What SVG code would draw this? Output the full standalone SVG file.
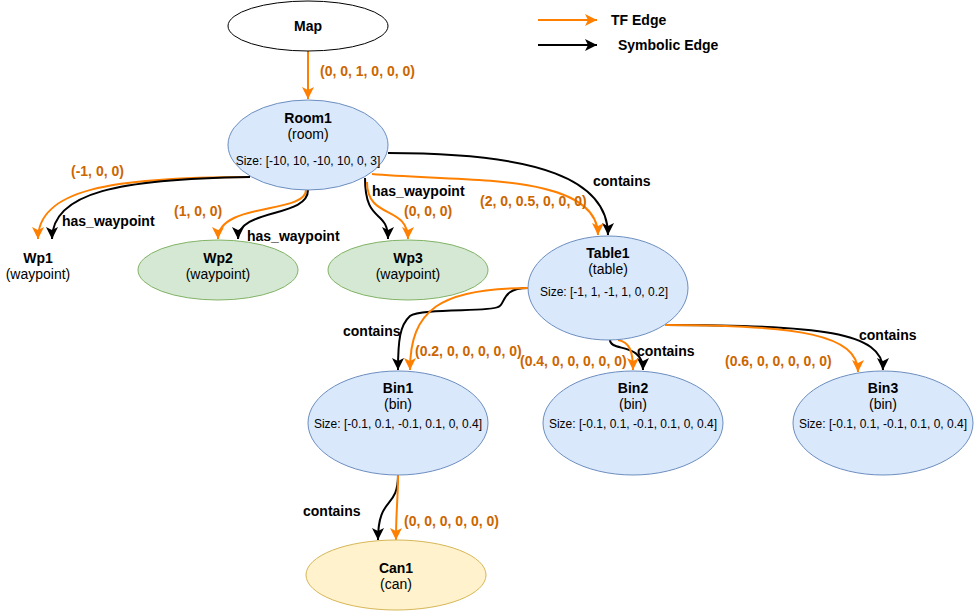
<svg xmlns="http://www.w3.org/2000/svg" width="979" height="611" viewBox="0 0 979 611">
<style>
text{font-family:"Liberation Sans",Arial,sans-serif;font-size:14px;fill:#000}
.b{font-weight:bold}
.c{text-anchor:middle}
.s{font-size:12px}
.tf{fill:none;stroke:#FF8000;stroke-width:2}
.sy{fill:none;stroke:#000;stroke-width:2}
.lt{font-weight:bold;fill:#CC6600}
.blue{fill:#dae8fc;stroke:#6c8ebf}
.green{fill:#d5e8d4;stroke:#82b366}
.yellow{fill:#fff2cc;stroke:#d6b656}
</style>
<defs>
<marker id="ao" markerUnits="userSpaceOnUse" markerWidth="14" markerHeight="12" viewBox="0 0 14 12" refX="12" refY="6" orient="auto">
<path d="M0,0 L12,6 L0,12 L3,6 Z" fill="#FF8000"/>
</marker>
<marker id="ab" markerUnits="userSpaceOnUse" markerWidth="14" markerHeight="12" viewBox="0 0 14 12" refX="12" refY="6" orient="auto">
<path d="M0,0 L12,6 L0,12 L3,6 Z" fill="#000"/>
</marker>
</defs>
<g id="legend">
<path class="tf" d="M538 20 L597 20" marker-end="url(#ao)"/>
<path class="sy" d="M538 45 L597 45" marker-end="url(#ab)"/>
<text class="b" x="611" y="25">TF Edge</text>
<text class="b" x="618" y="50">Symbolic Edge</text>
</g>
<g id="connectors">
<path class="tf" d="M308 51 L308 99" marker-end="url(#ao)"/>
<path class="tf" d="M250 177 C110 177 38 190 38 239" marker-end="url(#ao)"/>
<path class="sy" d="M250 177 C120 179 52 192 52 239" marker-end="url(#ab)"/>
<path class="tf" d="M306 190 C306 214 218 202 218 239" marker-end="url(#ao)"/>
<path class="sy" d="M308 190 C308 218 238 208 238 239" marker-end="url(#ab)"/>
<path class="sy" d="M365 178 C365 225 388 208 388 239" marker-end="url(#ab)"/>
<path class="tf" d="M367 182 C367 220 408 205 408 239" marker-end="url(#ao)"/>
<path class="sy" d="M388 153 C540 153 608 180 608 235" marker-end="url(#ab)"/>
<path class="tf" d="M372 174 C460 182 598 172 598 235" marker-end="url(#ao)"/>
<path class="sy" d="M528 288 C500 288 506 305 498 307 C490 312 420 308 410 316 C400 325 398 340 398 370" marker-end="url(#ab)"/>
<path class="tf" d="M528 288 C440 288 410 310 410 370" marker-end="url(#ao)"/>
<path class="sy" d="M610 340 C610 352 643 342 643 370" marker-end="url(#ab)"/>
<path class="tf" d="M618 340 C630 342 633 352 633 370" marker-end="url(#ao)"/>
<path class="sy" d="M665 325 C820 325 883 332 883 370" marker-end="url(#ab)"/>
<path class="tf" d="M665 325 C800 325 858 335 858 372" marker-end="url(#ao)"/>
<path class="sy" d="M398 475 C398 510 378 495 378 540" marker-end="url(#ab)"/>
<path class="tf" d="M398 475 C398 500 396 510 396 540" marker-end="url(#ao)"/>
<text class="lt" x="320" y="76">(0, 0, 1, 0, 0, 0)</text>
<text class="lt" x="71" y="176">(-1, 0, 0)</text>
<text class="b" x="62" y="226">has_waypoint</text>
<text class="lt" x="174" y="216">(1, 0, 0)</text>
<text class="b" x="247" y="241">has_waypoint</text>
<text class="b" x="372" y="196">has_waypoint</text>
<text class="lt" x="404" y="216">(0, 0, 0)</text>
<text class="b" x="593" y="186">contains</text>
<text class="lt" x="480" y="206">(2, 0, 0.5, 0, 0, 0)</text>
<text class="b" x="343" y="336">contains</text>
<text class="lt" x="415" y="356">(0.2, 0, 0, 0, 0, 0)</text>
<text class="lt" x="520" y="366">(0.4, 0, 0, 0, 0, 0)</text>
<text class="b" x="637" y="356">contains</text>
<text class="b" x="859" y="340">contains</text>
<text class="lt" x="725" y="366">(0.6, 0, 0, 0, 0, 0)</text>
<text class="b" x="303" y="516">contains</text>
<text class="lt" x="404" y="526">(0, 0, 0, 0, 0, 0)</text>
</g>
<g id="map">
<ellipse cx="308" cy="26" rx="80" ry="25" fill="#fff" stroke="#000"/>
<text class="b c" x="308" y="31">Map</text>
</g>
<g id="room1">
<ellipse class="blue" cx="308" cy="145" rx="80" ry="45"/>
<text class="b c" x="308" y="123">Room1</text>
<text class="c" x="308" y="139">(room)</text>
<text class="c s" x="308" y="165">Size: [-10, 10, -10, 10, 0, 3]</text>
</g>
<g id="wp1">
<text class="b c" x="38" y="263">Wp1</text>
<text class="c" x="38" y="279">(waypoint)</text>
</g>
<g id="wp2">
<ellipse class="green" cx="218" cy="270" rx="80" ry="30"/>
<text class="b c" x="218" y="263">Wp2</text>
<text class="c" x="218" y="279">(waypoint)</text>
</g>
<g id="wp3">
<ellipse class="green" cx="408" cy="270" rx="80" ry="30"/>
<text class="b c" x="408" y="263">Wp3</text>
<text class="c" x="408" y="279">(waypoint)</text>
</g>
<g id="table1">
<ellipse class="blue" cx="608" cy="288" rx="80" ry="52"/>
<text class="b c" x="608" y="258">Table1</text>
<text class="c" x="608" y="274">(table)</text>
<text class="c s" x="604" y="296">Size: [-1, 1, -1, 1, 0, 0.2]</text>
</g>
<g id="bin1">
<ellipse class="blue" cx="398" cy="423" rx="90" ry="52"/>
<text class="b c" x="398" y="393">Bin1</text>
<text class="c" x="398" y="409">(bin)</text>
<text class="c s" x="398" y="428">Size: [-0.1, 0.1, -0.1, 0.1, 0, 0.4]</text>
</g>
<g id="bin2">
<ellipse class="blue" cx="633" cy="423" rx="90" ry="52"/>
<text class="b c" x="633" y="393">Bin2</text>
<text class="c" x="633" y="409">(bin)</text>
<text class="c s" x="633" y="428">Size: [-0.1, 0.1, -0.1, 0.1, 0, 0.4]</text>
</g>
<g id="bin3">
<ellipse class="blue" cx="883" cy="423" rx="90" ry="52"/>
<text class="b c" x="883" y="393">Bin3</text>
<text class="c" x="883" y="409">(bin)</text>
<text class="c s" x="883" y="428">Size: [-0.1, 0.1, -0.1, 0.1, 0, 0.4]</text>
</g>
<g id="can1">
<ellipse class="yellow" cx="396" cy="575" rx="90" ry="35"/>
<text class="b c" x="396" y="573">Can1</text>
<text class="c" x="396" y="589">(can)</text>
</g>
</svg>
